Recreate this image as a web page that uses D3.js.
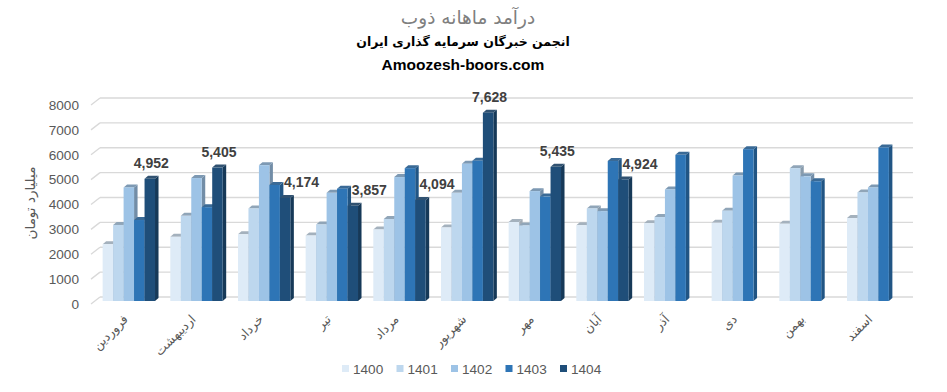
<!DOCTYPE html>
<html>
<head>
<meta charset="utf-8">
<script src="https://cdn.jsdelivr.net/npm/d3@7"></script>
<style>
  body { margin: 0; background: #fff; }
  #chart { width: 947px; height: 392px; }
  .fa { font-family: "DejaVu Sans", sans-serif; }
  .tick-lbl, .legend-lbl { font-family: "Liberation Sans", Arial, sans-serif; font-size: 13.6px; fill: #595959; }
  .data-lbl { font-family: "Liberation Sans", Arial, sans-serif; font-size: 14px; font-weight: bold; fill: #404040; }
</style>
</head>
<body>
<div id="chart"></div>
<script>
// Persian month names (x categories)
const months = ['فروردین', 'اردیبهشت', 'خرداد', 'تیر', 'مرداد', 'شهریور',
  'مهر', 'آبان', 'آذر', 'دی', 'بهمن', 'اسفند'];

// Series (one per year), values in billion toman
const years = ['1400', '1401', '1402', '1403', '1404'];
const v1400 = [2300, 2600, 2700, 2650, 2900, 2980, 3200, 3070, 3150, 3170, 3130, 3360];
const v1401 = [3080, 3450, 3750, 3100, 3320, 4380, 3060, 3750, 3400, 3660, 5380, 4400];
const v1402 = [4600, 4980, 5500, 4380, 5020, 5560, 4450, 3640, 4520, 5080, 5050, 4600];
const v1403 = [3280, 3800, 4700, 4550, 5380, 5680, 4230, 5670, 5920, 6150, 4850, 6220];
const v1404 = [4952, 5405, 4174, 3857, 4094, 7628, 5435, 4924, null, null, null, null];

// Y axis ticks
const yTicks = [0, 1000, 2000, 3000, 4000, 5000, 6000, 7000, 8000];

let
w = 947,
h = 392,
colors = ['#DEEBF7', '#BDD7EE', '#9DC3E6', '#2E75B6', '#1F4E79'],
depthX = 3.5, // 3D side face offset of a column
depthY = -3,
wallX = 9, // depth of the side wall (slanted grid stubs)
wallY = -7,
series = [v1400, v1401, v1402, v1403, v1404],

// Group positions along the front of the floor
x0 = d3.scaleBand().domain(months).range([95, 907]).paddingInner(0.226).paddingOuter(0.113),
x1 = d3.scaleBand().domain(years).range([0, x0.bandwidth()]),

// Front face of the columns, and gridlines on the back wall
yBar = d3.scaleLinear().domain([0, 8000]).range([301, 103.5]),
yGrid = d3.scaleLinear().domain([0, 8000]).range([297, 98]),

svg = d3.select('#chart').
append('svg').
attr('width', w).
attr('height', h);

// Titles
svg.append('text').
attr('class', 'fa').
attr('x', 468).attr('y', 24).
attr('text-anchor', 'middle').
attr('font-size', 18.5).
attr('fill', '#7f7f7f').
text('درآمد ماهانه ذوب');

svg.append('text').
attr('class', 'fa').
attr('x', 463).attr('y', 46).
attr('text-anchor', 'middle').
attr('font-size', 12.5).
attr('font-weight', 'bold').
attr('fill', '#000').
text('انجمن خبرگان سرمایه گذاری ایران');

svg.append('text').
attr('x', 463).attr('y', 70).
attr('text-anchor', 'middle').
attr('font-family', '"Liberation Sans", Arial, sans-serif').
attr('font-size', 15.5).
attr('font-weight', 'bold').
attr('fill', '#000').
text('Amoozesh-boors.com');

// Back wall gridlines plus short slanted stubs on the side wall
let grid = svg.append('g').attr('id', 'grid');
grid.selectAll('line.h').
data(yTicks).
enter().
append('line').
attr('class', 'h').
attr('x1', 100).attr('x2', 913).
attr('y1', d => yGrid(d)).attr('y2', d => yGrid(d)).
attr('stroke', '#d9d9d9').
attr('stroke-width', 1.3);

grid.selectAll('line.s').
data(yTicks).
enter().
append('line').
attr('class', 's').
attr('x1', 100 - wallX).attr('x2', 100).
attr('y1', d => yGrid(d) - wallY).attr('y2', d => yGrid(d)).
attr('stroke', '#d9d9d9').
attr('stroke-width', 1.3);

// Y tick labels
svg.selectAll('text.tick-lbl').
data(yTicks).
enter().
append('text').
attr('class', 'tick-lbl').
attr('x', 79).
attr('y', d => yGrid(d) - wallY).
attr('dy', '0.35em').
attr('text-anchor', 'end').
text(d => d);

// Y axis title
svg.append('text').
attr('class', 'fa').
attr('transform', 'translate(35,203) rotate(-90)').
attr('text-anchor', 'middle').
attr('font-size', 13.5).
attr('fill', '#595959').
text('میلیارد تومان');

// Flatten into one row per column
let cols = [];
months.forEach((m, i) => {
  years.forEach((y, j) => {
    if (series[j][i] != null) {
      cols.push({month: m, year: y, yi: j, value: series[j][i]});
    }
  });
});

// Draw the 3D columns left to right, so each one hides its neighbour's side
let bar = svg.append('g').attr('id', 'bars').
selectAll('g').
data(cols).
enter().
append('g');

let bx = d => x0(d.month) + x1(d.year),
bw = x1.bandwidth(),
by = d => yBar(d.value),
base = yBar(0);

// Side face
bar.append('path').
attr('d', d => 'M' + (bx(d) + bw) + ',' + by(d) +
  'l' + depthX + ',' + depthY +
  'L' + (bx(d) + bw + depthX) + ',' + (base + depthY) +
  'L' + (bx(d) + bw) + ',' + base + 'Z').
attr('fill', d => d3.color(colors[d.yi]).darker(0.9));

// Top face
bar.append('path').
attr('d', d => 'M' + bx(d) + ',' + by(d) +
  'l' + depthX + ',' + depthY +
  'h' + bw +
  'l' + (-depthX) + ',' + (-depthY) + 'Z').
attr('fill', d => d3.interpolateRgb(colors[d.yi], '#4d5966')(0.4));

// Front face
bar.append('rect').
attr('x', bx).
attr('y', by).
attr('width', bw).
attr('height', d => base - by(d)).
attr('fill', d => colors[d.yi]);

// Data labels on the 1404 columns; nudged right when the 1403 column is taller
let labelled = cols.filter(d => d.year === '1404');
svg.selectAll('text.data-lbl').
data(labelled).
enter().
append('text').
attr('class', 'data-lbl').
attr('text-anchor', 'middle').
attr('x', d => {
  let prev = v1403[months.indexOf(d.month)];
  return bx(d) + bw / 2 + (prev > d.value ? 16.5 : 1.5);
}).
attr('y', d => by(d) - 15.5).
attr('dy', '0.35em').
text(d => d3.format(',')(d.value));

// Rotated month labels
svg.selectAll('text.month').
data(months).
enter().
append('text').
attr('class', 'month fa').
attr('text-anchor', 'end').
attr('font-size', 12.5).
attr('fill', '#595959').
attr('transform', d => 'translate(' + (x0(d) + x0.bandwidth() / 2) + ',320) rotate(-45)').
text(d => d);

// Legend
let legend = svg.append('g').
attr('id', 'legend').
attr('transform', 'translate(342,365)');

let item = legend.selectAll('g').
data(years).
enter().
append('g').
attr('transform', (d, i) => 'translate(' + (i * 54.5) + ',0)');

item.append('rect').
attr('width', 7).attr('height', 7).
attr('fill', (d, i) => colors[i]);

item.append('text').
attr('class', 'legend-lbl').
attr('x', 11).
attr('y', 4).
attr('dy', '0.35em').
text(d => d);
</script>
</body>
</html>
